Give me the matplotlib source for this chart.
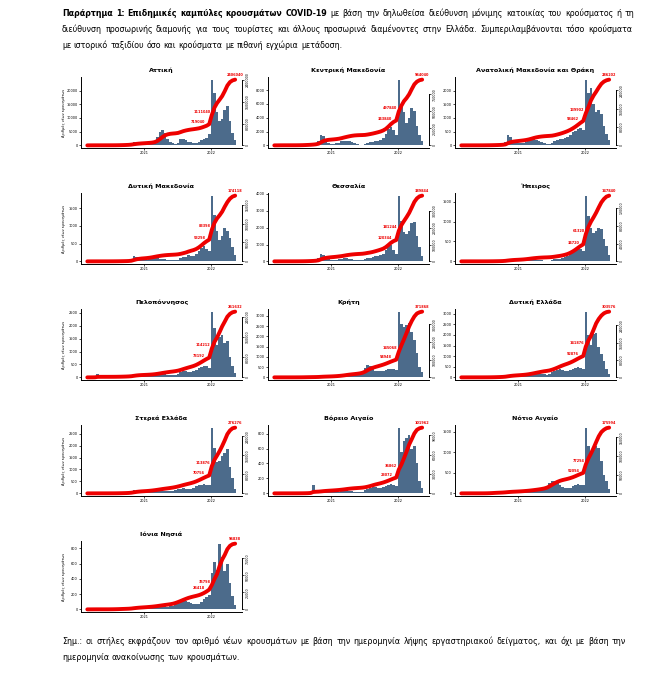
import numpy as np
import pandas as pd
import matplotlib
matplotlib.use('Agg')
import matplotlib.pyplot as plt
import matplotlib.dates as mdates
from matplotlib.ticker import MultipleLocator, MaxNLocator, FixedLocator, FuncFormatter

# ---------------- data (bi-weekly mean daily new cases) --------------
period_start = '2020-02-24'
period_days = 14

regions = ['Αττική', 'Κεντρική Μακεδονία', 'Ανατολική Μακεδονία και Θράκη',
           'Δυτική Μακεδονία', 'Θεσσαλία', 'Ήπειρος',
           'Πελοπόννησος', 'Κρήτη', 'Δυτική Ελλάδα',
           'Στερεά Ελλάδα', 'Βόρειο Αιγαίο', 'Νότιο Αιγαίο',
           'Ιόνια Νησιά']

attiki = [20, 60, 50, 30, 15, 10, 10, 15, 20, 20, 30, 50, 100, 150, 180, 250, 350, 600,
          1100, 900, 700, 500, 450, 450, 500, 700, 1300,
          3000, 4800, 5500, 4500, 2500, 1400, 700, 600, 1000,
          2200, 2400, 1800, 1400, 1100, 900, 1000, 1200, 1800, 2400, 2600, 4000,
          24000, 19000, 12000, 9000, 9500, 13000, 14500, 9000, 4500, 2000]
kentriki_makedonia = [5, 20, 40, 20, 10, 5, 5, 5, 10, 20, 40, 60, 100, 120, 150, 200, 300, 600,
                      1500, 1400, 800, 400, 250, 250, 300, 400, 600,
                      700, 650, 600, 500, 350, 200, 120, 80, 150,
                      400, 500, 550, 650, 700, 800, 1100, 1600, 2400, 2700, 2200, 1500,
                      9500, 6000, 4800, 3200, 4000, 5400, 5000, 2800, 1500, 600]
anatoliki_makedonia = [1, 2, 3, 2, 2, 2, 2, 2, 4, 5, 8, 10, 15, 20, 25, 30, 50, 120,
                       380, 300, 180, 110, 90, 90, 100, 120, 170,
                       220, 240, 200, 150, 110, 80, 60, 50, 70,
                       150, 200, 220, 250, 280, 320, 380, 470, 520, 600, 620, 560,
                       2400, 1900, 2100, 1500, 1200, 1300, 1150, 700, 400, 200]
dytiki_makedonia = [0, 1, 2, 1, 1, 0, 0, 1, 1, 2, 3, 4, 6, 8, 10, 12, 20, 50,
                    140, 130, 90, 60, 40, 45, 60, 80, 95,
                    95, 80, 70, 55, 40, 30, 25, 30, 50,
                    90, 120, 130, 180, 150, 140, 200, 300, 380, 420, 360, 300,
                    1850, 1300, 850, 600, 700, 950, 850, 650, 400, 180]
thessalia = [1, 3, 5, 3, 2, 1, 1, 2, 3, 5, 8, 12, 20, 30, 40, 50, 80, 180,
             420, 380, 250, 150, 110, 100, 110, 130, 150,
             190, 200, 160, 130, 100, 80, 60, 70, 150,
             200, 180, 240, 300, 320, 350, 420, 650, 900, 950, 700, 450,
             3900, 2400, 1750, 1650, 1800, 2300, 2350, 1500, 850, 300]
ipeiros = [0, 1, 2, 1, 1, 0, 0, 0, 1, 1, 2, 3, 4, 6, 8, 10, 15, 30,
           50, 45, 35, 25, 20, 25, 30, 40, 50,
           55, 50, 40, 35, 25, 20, 15, 20, 35,
           55, 65, 60, 80, 100, 130, 180, 230, 270, 310, 300, 250,
           1650, 1150, 850, 700, 750, 850, 800, 550, 380, 150]
peloponnisos = [0, 2, 5, 15, 120, 10, 2, 1, 1, 2, 4, 6, 10, 15, 20, 25, 35, 60,
                110, 100, 70, 45, 35, 35, 40, 55, 75,
                100, 120, 130, 120, 110, 100, 90, 110, 140,
                200, 240, 230, 220, 210, 230, 300, 380, 420, 450, 430, 380,
                2550, 1900, 1250, 1550, 1650, 1350, 1400, 800, 450, 180]
kriti = [0, 1, 3, 2, 1, 0, 0, 1, 2, 4, 8, 12, 18, 22, 20, 18, 20, 30,
         60, 55, 40, 35, 40, 50, 60, 80, 110,
         130, 150, 140, 120, 110, 120, 150, 250, 450,
         600, 550, 420, 330, 300, 310, 330, 380, 420, 430, 400, 380,
         3200, 2600, 2450, 2550, 2650, 2200, 1800, 1200, 500, 250]
dytiki_ellada = [0, 1, 3, 2, 2, 1, 1, 1, 2, 3, 5, 8, 12, 18, 25, 30, 40, 70,
                 130, 120, 90, 70, 60, 60, 70, 90, 120,
                 150, 170, 180, 170, 160, 150, 120, 150, 250,
                 300, 350, 380, 350, 320, 300, 340, 400, 450, 470, 440, 400,
                 3100, 2000, 1550, 2050, 2100, 1450, 1100, 750, 400, 150]
sterea_ellada = [0, 1, 2, 2, 1, 1, 1, 1, 2, 3, 4, 6, 10, 15, 20, 25, 35, 70,
                 130, 120, 90, 65, 50, 55, 65, 80, 100,
                 110, 120, 120, 110, 100, 110, 120, 150, 180,
                 200, 220, 200, 190, 200, 230, 290, 340, 370, 380, 360, 330,
                 2750, 1900, 1300, 1350, 1550, 1700, 1850, 1100, 650, 200]
voreio_aigaio = [0, 0, 1, 1, 1, 0, 0, 0, 1, 1, 2, 3, 5, 8, 20, 110, 25, 15,
                 25, 30, 25, 20, 18, 20, 22, 25, 30,
                 35, 40, 35, 30, 25, 20, 20, 25, 40,
                 60, 75, 90, 80, 70, 70, 80, 100, 110, 120, 115, 105,
                 880, 560, 700, 740, 780, 600, 630, 400, 170, 70]
notio_aigaio = [0, 1, 2, 2, 1, 0, 0, 1, 2, 4, 8, 15, 25, 30, 25, 20, 25, 35,
                45, 40, 30, 25, 25, 30, 35, 40, 45,
                55, 60, 65, 70, 80, 100, 150, 250, 300,
                290, 260, 200, 150, 120, 120, 140, 170, 200, 220, 210, 200,
                1600, 1150, 950, 1050, 1150, 1100, 800, 450, 300, 100]
ionia_nisia = [0, 1, 2, 2, 1, 0, 0, 0, 1, 2, 4, 6, 8, 10, 10, 10, 12, 20,
               35, 30, 25, 20, 18, 20, 22, 25, 30,
               35, 40, 40, 38, 35, 40, 50, 80, 100,
               110, 115, 110, 100, 80, 70, 65, 75, 100, 130, 160, 190,
               480, 620, 520, 860, 680, 500, 600, 350, 170, 60]

region_values = [attiki, kentriki_makedonia, anatoliki_makedonia,
                 dytiki_makedonia, thessalia, ipeiros,
                 peloponnisos, kriti, dytiki_ellada,
                 sterea_ellada, voreio_aigaio, notio_aigaio,
                 ionia_nisia]
left_tick_steps = [5000, 2000, 500, 500, 1000, 500, 500, 500, 500, 500, 200, 500, 200]
year_ticks = ['2021-01-01', '2022-01-01']
year_labels = ['2021', '2022']
ylabel_text = 'Αριθμός νέων κρουσμάτων'

header_lines = [
    [('Παράρτημα', 'bold'), ('1:', 'bold'), ('Επιδημικές', 'bold'), ('καμπύλες', 'bold'),
     ('κρουσμάτων', 'bold'), ('COVID-19', 'bold')] +
    [(w, 'normal') for w in 'με βάση την δηλωθείσα διεύθυνση μόνιμης κατοικίας του κρούσματος ή τη'.split()],
    [(w, 'normal') for w in 'διεύθυνση προσωρινής διαμονής για τους τουρίστες και άλλους προσωρινά διαμένοντες στην Ελλάδα. Συμπεριλαμβάνονται τόσο κρούσματα'.split()],
    [(w, 'normal') for w in 'με ιστορικό ταξιδίου όσο και κρούσματα με πιθανή εγχώρια μετάδοση.'.split()],
]
footnote_lines = [
    [(w, 'normal') for w in 'Σημ.: οι στήλες εκφράζουν τον αριθμό νέων κρουσμάτων με βάση την ημερομηνία λήψης εργαστηριακού δείγματος, και όχι με βάση την'.split()],
    [(w, 'normal') for w in 'ημερομηνία ανακοίνωσης των κρουσμάτων.'.split()],
]

# ---------------- style ----------------
W, H, DPI = 654, 683, 100
BAR = '#4c6b8b'
RED = '#ee0000'
FONT = ['DejaVu Sans']
plt.rcParams['font.family'] = FONT

fig = plt.figure(figsize=(W / DPI, H / DPI), dpi=DPI)
fig.patch.set_facecolor('white')
renderer = fig.canvas.get_renderer()


def px_rect(l, t, r, b):
    return [l / W, 1 - b / H, (r - l) / W, (b - t) / H]


dates = pd.date_range(period_start, periods=len(attiki), freq=f'{period_days}D')
xnum = mdates.date2num(dates.to_pydatetime())
xlim = mdates.date2num([pd.Timestamp('2020-01-28').to_pydatetime(),
                        pd.Timestamp('2022-06-15').to_pydatetime()])
xticks = mdates.date2num([pd.Timestamp(d).to_pydatetime() for d in year_ticks])

TICK_FS = 2.5
for k, (name, vals, step) in enumerate(zip(regions, region_values, left_tick_steps)):
    r, c = divmod(k, 3)
    L = 81 + 187 * c
    R = L + 161
    T = 77 + 116 * r
    B = 148 + 116 * r
    ax = fig.add_axes(px_rect(L, T, R, B))
    v = np.array(vals, dtype=float)
    ax.bar(xnum, v, width=period_days, align='edge', color=BAR, linewidth=0)
    ax.set_xlim(xlim)
    vmax = v.max()
    ax.set_ylim(-0.04 * vmax, 1.04 * vmax)
    ax.yaxis.set_major_locator(MultipleLocator(step))
    ax.yaxis.set_major_formatter(FuncFormatter(lambda x, p: f'{int(round(x))}'))
    ax.set_xticks(xticks)
    ax.set_xticklabels(year_labels)
    for s in ['top', 'right']:
        ax.spines[s].set_visible(False)
    for s in ['left', 'bottom']:
        ax.spines[s].set_linewidth(0.7)
    ax.tick_params(labelsize=TICK_FS, length=1.5, width=0.5, pad=1.0)
    ax.set_facecolor('none')

    ax2 = ax.twinx()
    cum = np.cumsum(v) * period_days
    cmax = cum[-1]
    ax2.plot(xnum + period_days / 2, cum, color=RED, lw=2.8, solid_capstyle='round', zorder=3)
    ax2.set_ylim(-0.04 * cmax, 1.04 * cmax)
    tv = MaxNLocator(4).tick_values(0, cmax)
    tv = [t for t in tv if 0 <= t <= cmax * 1.001]
    ax2.yaxis.set_major_locator(FixedLocator(tv))
    ax2.yaxis.set_major_formatter(FuncFormatter(lambda x, p: f'{int(round(x))}'))
    for s in ['top', 'left', 'bottom']:
        ax2.spines[s].set_visible(False)
    ax2.spines['right'].set_linewidth(0.7)
    ax2.spines['right'].set_bounds(tv[0], tv[-1])
    ax2.tick_params(labelsize=2.3, length=1.5, width=0.5, pad=1.0)
    for lab in ax2.get_yticklabels():
        lab.set_rotation(90)
        lab.set_va('center')

    n = len(v)
    for idx, ha, dx, dy in [(46, 'right', -1.0, 1.0), (48, 'right', -1.0, 1.0), (n - 1, 'center', 0, 2.0)]:
        ax2.annotate(f'{int(round(cum[idx]))}', (xnum[idx] + period_days / 2, cum[idx]),
                     xytext=(dx, dy), textcoords='offset points', ha=ha, va='bottom',
                     fontsize=2.5, color=RED, fontweight='bold', zorder=4)

    fig.text((L + R) / 2 / W, 1 - (T - 7) / H, name, ha='center', va='center',
             fontsize=4.6, fontweight='bold')
    if c == 0:
        fig.text(64 / W, 1 - (T + B) / 2 / H, ylabel_text, rotation=90,
                 ha='center', va='center', fontsize=2.5)


# ---------------- justified text blocks ----------------
def measure(s, fs, weight):
    t = fig.text(0, 0, s, fontsize=fs, fontweight=weight)
    w = t.get_window_extent(renderer).width
    t.remove()
    return w


def natural_width(words, fs):
    sp = measure('a a', fs, 'normal') - measure('aa', fs, 'normal')
    return sum(measure(w, fs, wt) for w, wt in words) + sp * (len(words) - 1)


def draw_line(words, fs, x0, x1, baseline, justify):
    ws = [measure(w, fs, wt) for w, wt in words]
    sp = measure('a a', fs, 'normal') - measure('aa', fs, 'normal')
    if justify and len(words) > 1:
        gap = (x1 - x0 - sum(ws)) / (len(words) - 1)
    else:
        gap = sp
    x = x0
    for (w, wt), wd in zip(words, ws):
        fig.text(x / W, 1 - baseline / H, w, fontsize=fs, fontweight=wt,
                 ha='left', va='baseline')
        x += wd + gap


fs0 = 6.0
fs_h = fs0 * (0.985 * (634 - 62)) / natural_width(header_lines[0], fs0)
draw_line(header_lines[0], fs_h, 62, 634, 16, True)
draw_line(header_lines[1], fs_h, 62, 632, 32, True)
draw_line(header_lines[2], fs_h, 62, 632, 47.5, False)

fs_f = fs0 * (0.985 * (626 - 62)) / natural_width(footnote_lines[0], fs0)
draw_line(footnote_lines[0], fs_f, 62, 626, 644, True)
draw_line(footnote_lines[1], fs_f, 62, 626, 660, False)

fig.savefig('out.png', dpi=DPI, facecolor='white')
